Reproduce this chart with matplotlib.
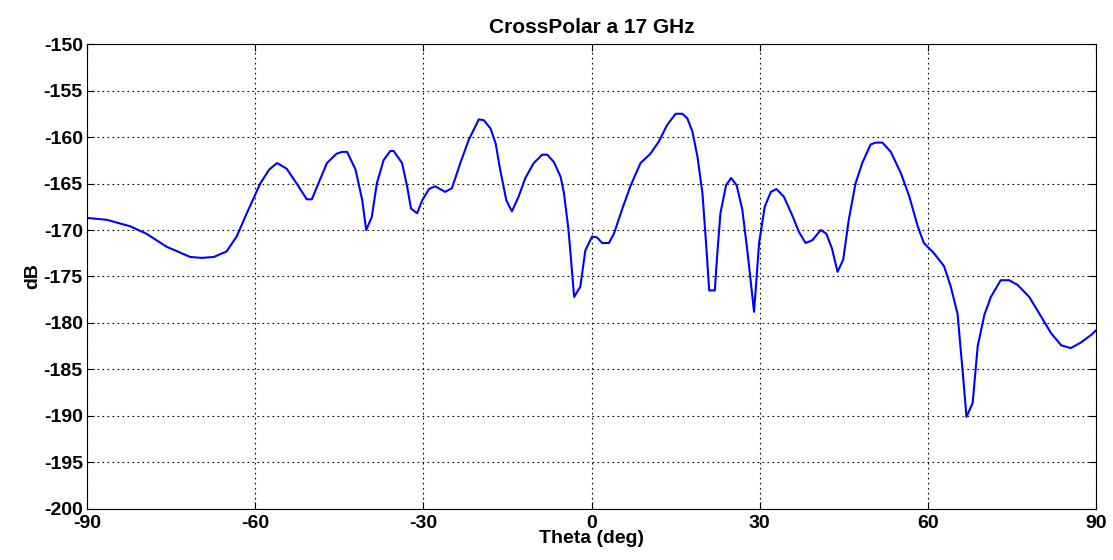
import matplotlib.pyplot as plt

# cross-polar pattern cut, 17 GHz
theta = [-90, -86.5, -82.3, -79.4, -75.8, -71.6, -69.5, -67.4, -65.1, -63.3, -61.5,
         -59.1, -57.5, -56.1, -54.4, -52.6, -50.8, -49.9, -47.2, -45.5, -44.5, -43.6, -42.1,
         -40.9, -40.2, -39.2, -38.3, -37.1, -35.9, -35.3, -33.8, -32.9, -32.2,
         -31.1, -30.2, -29.0, -27.9, -26.1, -24.9, -23.4, -21.9, -20.1, -19.2,
         -18.0, -17.1, -16.3, -15.2, -14.2, -13.0, -11.8, -10.3, -8.8, -7.9,
         -6.7, -5.5, -4.9, -4.1, -3.1, -2.0, -1.1, 0.1, 1.0, 1.9,
         3.1, 4.0, 5.5, 7.0, 8.75, 10.5, 12.0, 13.5, 15.0, 16.2,
         17.1, 18.0, 18.9, 19.8, 20.4, 21.0, 22.0, 22.4, 23.0, 24.0,
         24.9, 25.9, 26.9, 27.8, 29.0, 29.9, 30.9, 32.0, 33.0, 34.3,
         35.8, 37.0, 38.2, 39.4, 40.9, 41.9, 42.9, 43.9, 44.9, 45.9,
         47.1, 48.3, 49.8, 50.7, 51.9, 53.4, 55.2, 56.7, 58.2, 59.3,
         61.1, 62.9, 64.1, 65.3, 66.2, 66.9, 68.0, 68.9, 70.1, 71.25,
         73.0, 74.5, 76.0, 78.1, 80.2, 82.0, 83.8, 85.5, 87.3, 89.1, 90]
db = [-168.7, -168.9, -169.6, -170.4, -171.8, -172.9, -173.0, -172.9, -172.3, -170.7, -168.2,
      -165.0, -163.5, -162.8, -163.4, -165.0, -166.7, -166.7, -162.8, -161.8, -161.6, -161.6, -163.5,
      -166.8, -170.0, -168.6, -165.0, -162.5, -161.5, -161.5, -162.8, -165.3, -167.7,
      -168.2, -166.8, -165.6, -165.3, -165.9, -165.5, -162.8, -160.3, -158.1, -158.2,
      -159.1, -160.7, -163.5, -166.8, -168.0, -166.4, -164.4, -162.8, -161.9, -161.9,
      -162.7, -164.3, -166.1, -170.0, -177.2, -176.1, -172.2, -170.7, -170.8, -171.4,
      -171.4, -170.4, -167.7, -165.2, -162.8, -161.8, -160.5, -158.7, -157.5, -157.5,
      -158.0, -159.4, -162.1, -166.1, -171.1, -176.5, -176.5, -172.9, -168.2, -165.2,
      -164.4, -165.2, -167.8, -172.2, -178.8, -171.4, -167.5, -165.9, -165.6, -166.4,
      -168.4, -170.2, -171.4, -171.1, -170.0, -170.4, -172.0, -174.5, -173.2, -168.9,
      -165.0, -162.8, -160.8, -160.6, -160.6, -161.6, -163.9, -166.4, -169.6, -171.4,
      -172.5, -173.9, -176.1, -179.0, -185.1, -190.1, -188.6, -182.5, -179.1, -177.2,
      -175.4, -175.4, -175.9, -177.2, -179.3, -181.1, -182.4, -182.7, -182.1, -181.3, -180.8]

xticks = [-90, -60, -30, 0, 30, 60, 90]
yticks = list(range(-200, -149, 5))

plt.rcParams['font.family'] = ['Liberation Sans', 'DejaVu Sans']
plt.rcParams['font.weight'] = 'bold'
plt.rcParams['axes.unicode_minus'] = False

fig = plt.figure(figsize=(11.13, 5.6), dpi=100)
ax = fig.add_axes([0.0782, 0.0911, 0.9065, 0.8303])
ax.plot(theta, db, color='#0000ff', lw=1.5)

ax.set_xlim(-90, 90)
ax.set_ylim(-200, -150)
ax.set_xticks(xticks)
ax.set_yticks(yticks)
ax.tick_params(direction='in', top=True, right=True, length=5, labelsize=14)
ax.tick_params(axis='x', pad=4)
ax.tick_params(axis='y', pad=3)
for lbl in ax.get_xticklabels() + ax.get_yticklabels():
    lbl.set_fontweight('bold')
ax.grid(True, color='black', linestyle=(0, (1.5, 3)), linewidth=0.8)
for s in ax.spines.values():
    s.set_linewidth(0.8)

ax.set_title('CrossPolar a 17 GHz', fontsize=15, fontweight='bold', pad=8)
ax.set_xlabel('Theta (deg)', fontsize=14, fontweight='bold', labelpad=-1)
ax.set_ylabel('dB', fontsize=14, fontweight='bold', labelpad=2)

fig.savefig('out.png', dpi=100)
